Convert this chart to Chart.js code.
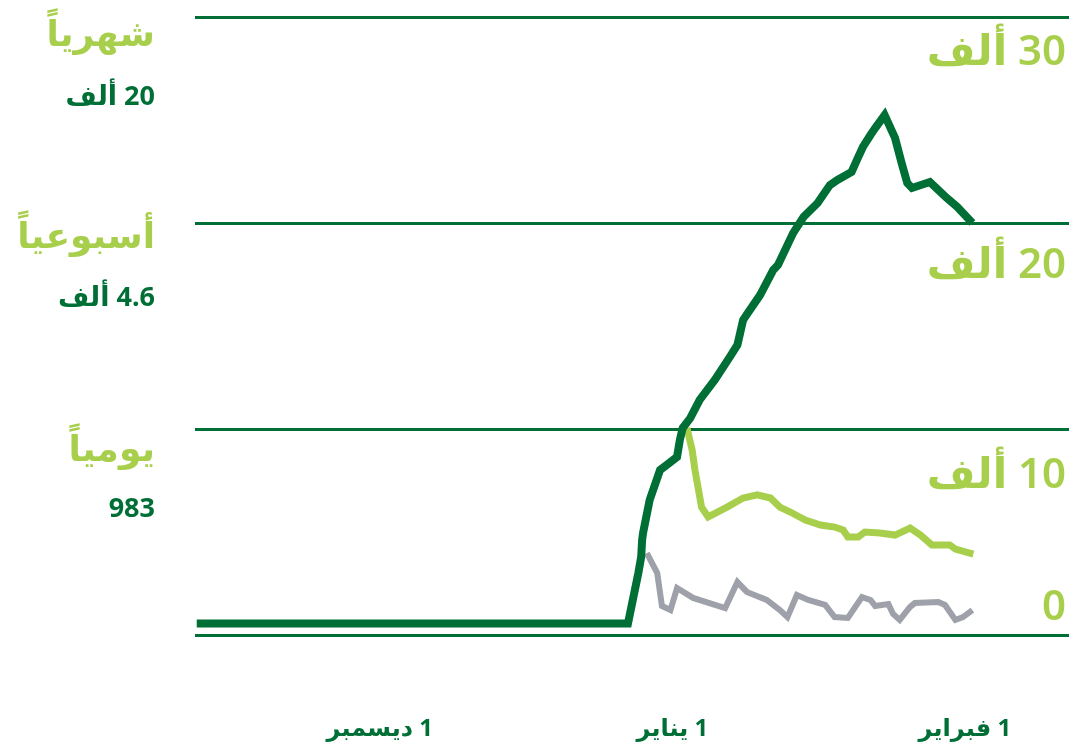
<!DOCTYPE html>
<html lang="ar">
<head>
<meta charset="utf-8">
<script src="https://cdn.jsdelivr.net/npm/chart.js@4.4.1/dist/chart.umd.min.js"></script>
<style>
  html, body { margin: 0; padding: 0; background: #ffffff; width: 1074px; height: 749px; overflow: hidden; }
  #wrap { position: relative; width: 1074px; height: 749px; }
  #c { position: absolute; left: 0; top: 0; direction: rtl; }
  .lg { position: absolute; right: 919px; direction: rtl; text-align: right; white-space: nowrap;
        font-family: "Noto Sans", "DejaVu Sans", sans-serif; font-weight: 700; line-height: 1; }
  .big { color: #A8CF4C; font-size: 36px; }
  .small { color: #006F36; font-size: 27px; }
</style>
</head>
<body>
<div id="wrap">
  <canvas id="c" width="1074" height="749"></canvas>
  <div class="lg big"   id="l1" style="top:15px">شهرياً</div>
  <div class="lg small" id="l2" style="top:81px">20 ألف</div>
  <div class="lg big"   id="l3" style="top:217px">أسبوعياً</div>
  <div class="lg small" id="l4" style="top:282px">4.6 ألف</div>
  <div class="lg big"   id="l5" style="top:430px">يومياً</div>
  <div class="lg small" id="l6" style="top:493px">983</div>
</div>
<script>
// ---- Data (x = days since 1 December, y = cases) ----
const monthlyDays = [-19.4, 26.3, 27.4, 27.7, 27.8, 27.9, 28.6, 29.7, 30.4, 31.5, 31.8, 32.1, 32.9, 33.9, 35.5, 37.1, 37.9, 38.5, 39.0, 40.3, 41.7, 42.2, 43.8, 44.9, 46.4, 47.7, 48.5, 50.0, 50.7, 51.2, 52.0, 52.5, 53.5, 54.6, 55.3, 55.9, 56.4, 58.3, 60.1, 61.2, 62.8];
const monthlyValues = [560, 560, 3010, 3790, 4610, 4950, 6550, 8010, 8250, 8640, 9470, 10050, 10530, 11410, 12380, 13500, 14080, 15290, 15630, 16500, 17720, 17960, 19510, 20290, 20970, 21840, 22090, 22480, 23200, 23690, 24270, 24610, 25240, 24130, 22910, 21940, 21700, 21990, 21210, 20780, 20000];

const weeklyDays = [32.55, 33.1, 33.4, 34.1, 34.8, 36.8, 38.5, 40.0, 41.4, 42.4, 43.5, 45.1, 46.7, 48.2, 49.1, 49.6, 50.7, 51.4, 53.0, 54.6, 56.2, 57.3, 58.5, 60.4, 61.0, 62.9];
const weeklyValues = [10050, 8980, 8010, 6210, 5730, 6210, 6650, 6800, 6650, 6210, 5970, 5580, 5340, 5240, 5100, 4760, 4760, 5000, 4950, 4850, 5190, 4850, 4370, 4370, 4170, 3930];

const dailyDays = [28.3, 29.4, 29.9, 30.8, 31.5, 33.2, 36.6, 37.9, 38.9, 41.0, 42.4, 43.2, 44.2, 45.4, 47.2, 48.2, 49.6, 51.1, 52.0, 52.5, 53.9, 54.4, 55.1, 56.2, 56.7, 59.2, 59.9, 61.0, 61.8, 62.8];
const dailyValues = [3980, 3010, 1410, 1210, 2280, 1800, 1310, 2570, 2090, 1700, 1210, 870, 1940, 1700, 1460, 870, 830, 1840, 1700, 1410, 1500, 1020, 730, 1360, 1550, 1600, 1460, 730, 870, 1210];

const xTickDays = [0, 31, 62];
const xTickLabels = ["1 ديسمبر", "1 يناير", "1 فبراير"];
const yTickValues = [30000, 20000, 10000, 0];
const yTickLabels = ["30 ألف", "20 ألف", "10 ألف", "0"];

const DARK = "#006F36";
const LIGHT = "#A8CF4C";
const GRAY = "#9EA1A9";

function pts(xs, ys) { return xs.map((x, i) => ({ x: x, y: ys[i] })); }

// Draws the right-hand value labels using the y scale
const rightLabels = {
  id: "rightLabels",
  afterDraw(chart, args, opts) {
    const ctx = chart.ctx;
    const y = chart.scales.y;
    ctx.save();
    ctx.direction = "rtl";
    ctx.font = opts.font;
    ctx.fillStyle = opts.color;
    ctx.textAlign = "right";
    ctx.textBaseline = "middle";
    yTickValues.forEach((v, i) => {
      ctx.fillText(yTickLabels[i], opts.x, y.getPixelForValue(v) + opts.offsets[i]);
    });
    ctx.restore();
  }
};

new Chart(document.getElementById("c"), {
  type: "line",
  data: {
    datasets: [
      { label: "شهرياً", data: pts(monthlyDays, monthlyValues), borderColor: DARK, borderWidth: 8, pointRadius: 0, tension: 0, fill: false },
      { label: "أسبوعياً", data: pts(weeklyDays, weeklyValues), borderColor: LIGHT, borderWidth: 7, pointRadius: 0, tension: 0, fill: false },
      { label: "يومياً", data: pts(dailyDays, dailyValues), borderColor: GRAY, borderWidth: 6, pointRadius: 0, tension: 0, fill: false }
    ]
  },
  options: {
    responsive: false,
    animation: false,
    devicePixelRatio: 1,
    layout: { padding: { left: 195, right: 5, top: 17, bottom: 0 } },
    plugins: {
      legend: { display: false },
      tooltip: { enabled: false },
      rightLabels: { x: 1066, font: "600 42px 'Noto Sans', 'DejaVu Sans', sans-serif", color: LIGHT, offsets: [36, 43, 47, -27] }
    },
    scales: {
      x: {
        type: "linear",
        min: -19.585,
        max: 73.04,
        grid: { display: false, drawTicks: false },
        border: { display: false },
        afterBuildTicks: (axis) => { axis.ticks = xTickDays.map(v => ({ value: v })); },
        afterFit: (axis) => { axis.height = 114; axis.paddingLeft = 0; axis.paddingRight = 0; },
        ticks: {
          autoSkip: false,
          maxRotation: 0,
          padding: 80,
          color: DARK,
          font: { family: "'Noto Sans', 'DejaVu Sans', sans-serif", size: 24, weight: "bold" },
          callback: (v) => { const i = xTickDays.indexOf(v); return i >= 0 ? xTickLabels[i] : ""; }
        }
      },
      y: {
        position: "right",
        min: 0,
        max: 30000,
        afterBuildTicks: (axis) => { axis.ticks = yTickValues.map(v => ({ value: v })); },
        afterFit: (axis) => { axis.width = 0; axis.paddingTop = 0; axis.paddingBottom = 0; },
        grid: { color: DARK, lineWidth: 3, drawTicks: false },
        border: { display: false },
        ticks: { display: false }
      }
    }
  },
  plugins: [rightLabels]
});
</script>
</body>
</html>
